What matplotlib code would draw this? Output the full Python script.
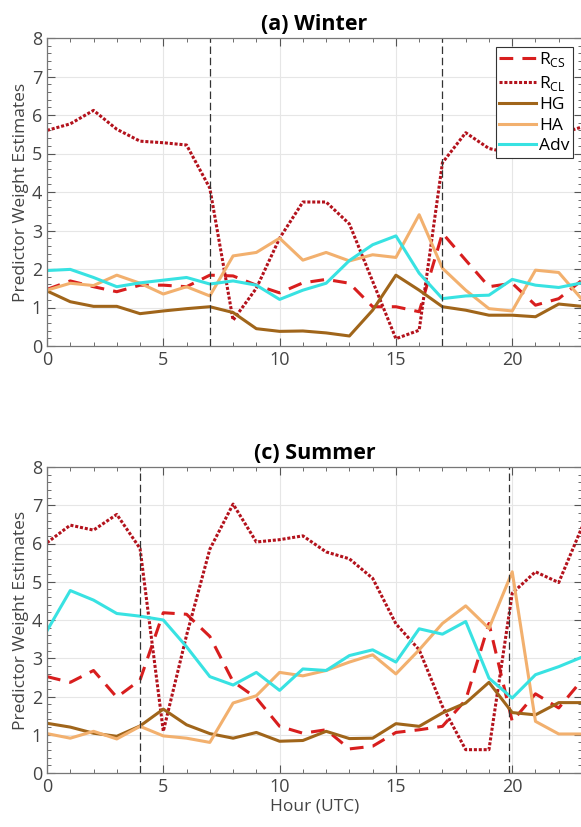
import numpy as np
import matplotlib
matplotlib.use("Agg")
import matplotlib.pyplot as plt
from matplotlib.ticker import MultipleLocator

plt.rcParams['font.family'] = ['Open Sans', 'DejaVu Sans']

hours = np.arange(24)

# winter predictor weights
w_rcs = [1.47, 1.69, 1.54, 1.41, 1.58, 1.58, 1.54, 1.84, 1.82, 1.58, 1.38, 1.64,
         1.73, 1.63, 1.02, 1.02, 0.89, 2.93, 2.23, 1.54, 1.63, 1.06, 1.23, 1.71]
w_rcl = [5.60, 5.77, 6.12, 5.63, 5.32, 5.28, 5.22, 4.10, 0.67, 1.50, 2.80, 3.74,
         3.74, 3.17, 1.68, 0.19, 0.41, 4.76, 5.54, 5.13, 5.00, 5.30, 5.50, 5.69]
w_hg = [1.43, 1.15, 1.03, 1.03, 0.84, 0.91, 0.97, 1.02, 0.87, 0.45, 0.38, 0.39,
        0.34, 0.26, 0.93, 1.84, 1.45, 1.02, 0.93, 0.80, 0.80, 0.76, 1.09, 1.03]
w_ha = [1.45, 1.63, 1.57, 1.84, 1.63, 1.35, 1.54, 1.30, 2.34, 2.43, 2.80, 2.23,
        2.43, 2.21, 2.37, 2.30, 3.41, 2.02, 1.45, 0.97, 0.91, 1.97, 1.91, 1.21]
w_adv = [1.96, 1.99, 1.78, 1.54, 1.64, 1.71, 1.78, 1.61, 1.69, 1.58, 1.21, 1.45,
         1.63, 2.22, 2.63, 2.86, 1.89, 1.23, 1.30, 1.32, 1.73, 1.58, 1.52, 1.64]

# summer predictor weights
s_rcs = [2.52, 2.37, 2.68, 1.98, 2.43, 4.19, 4.15, 3.57, 2.39, 1.96, 1.22, 1.04,
         1.13, 0.63, 0.70, 1.06, 1.13, 1.22, 1.91, 3.91, 1.35, 2.07, 1.70, 2.43]
s_rcl = [6.02, 6.48, 6.35, 6.76, 5.87, 1.09, 3.60, 5.85, 7.03, 6.04, 6.10, 6.20,
         5.78, 5.60, 5.09, 3.90, 3.22, 1.74, 0.61, 0.61, 4.70, 5.26, 4.98, 6.43]
s_hg = [1.30, 1.20, 1.04, 0.96, 1.23, 1.67, 1.26, 1.03, 0.91, 1.06, 0.83, 0.85,
        1.09, 0.90, 0.91, 1.29, 1.22, 1.57, 1.83, 2.37, 1.58, 1.52, 1.84, 1.84]
s_ha = [1.03, 0.91, 1.09, 0.89, 1.22, 0.97, 0.91, 0.80, 1.83, 2.02, 2.63, 2.54,
        2.68, 2.90, 3.09, 2.59, 3.22, 3.91, 4.37, 3.78, 5.26, 1.35, 1.02, 1.02]
s_adv = [3.72, 4.77, 4.52, 4.17, 4.10, 4.00, 3.30, 2.52, 2.30, 2.63, 2.16, 2.72,
         2.68, 3.07, 3.22, 2.90, 3.77, 3.63, 3.96, 2.48, 1.96, 2.57, 2.78, 3.03]

# sunrise / sunset markers
winter_marks = [7, 17]
summer_marks = [4, 19.85]

labels = [r'R$_\mathregular{CS}$', r'R$_\mathregular{CL}$', 'HG', 'HA', 'Adv']
colors = ['#d81e1e', '#b3121c', '#a0651a', '#f2b06e', '#38e2e2']
styles = [(0, (4.5, 3)), (0, (1, 0.6)), '-', '-', '-']

fig = plt.figure(figsize=(5.81, 8.27), dpi=100)
ax_w = fig.add_axes([47 / 581, 1 - 346 / 827, 535 / 581, 308 / 827])
ax_s = fig.add_axes([47 / 581, 1 - 773 / 827, 535 / 581, 306 / 827])

panels = [
    (ax_w, '(a) Winter', [w_rcs, w_rcl, w_hg, w_ha, w_adv], winter_marks),
    (ax_s, '(c) Summer', [s_rcs, s_rcl, s_hg, s_ha, s_adv], summer_marks),
]

for ax, title, series, marks in panels:
    for vals, lab, col, ls in zip(series, labels, colors, styles):
        ax.plot(hours, vals, color=col, linestyle=ls, lw=2.2, label=lab)
    for m in marks:
        ax.axvline(m, color='#333333', lw=0.9, linestyle=(0, (6, 3)))
    ax.set_xlim(0, 23)
    ax.set_ylim(0, 8)
    ax.xaxis.set_major_locator(MultipleLocator(5))
    ax.xaxis.set_minor_locator(MultipleLocator(1))
    ax.yaxis.set_major_locator(MultipleLocator(1))
    ax.yaxis.set_minor_locator(MultipleLocator(0.2))
    ax.grid(True, which='major', color='#e6e6e6', lw=0.8)
    ax.set_axisbelow(True)
    ax.tick_params(which='both', direction='in', top=True, right=True,
                   colors='#555555', labelsize=13, labelcolor='#444444')
    ax.tick_params(which='major', length=6)
    ax.tick_params(which='minor', length=3)
    for sp in ax.spines.values():
        sp.set_color('#777777')
        sp.set_linewidth(0.9)
    ax.set_ylabel('Predictor Weight Estimates', fontsize=12.5, color='#444444',
                  labelpad=2)
    ax.set_title(title, fontsize=15.5, fontweight='bold', pad=6)

ax_s.set_xlabel('Hour (UTC)', fontsize=12.5, color='#444444', labelpad=2)

leg = ax_w.legend(loc='upper right', bbox_to_anchor=(0.983, 0.971),
                  fontsize=12.5, handlelength=2.1, handletextpad=0.2,
                  labelspacing=0.25, borderpad=0.2, borderaxespad=0.0,
                  fancybox=False, framealpha=1)
leg.get_frame().set_edgecolor('#333333')
leg.get_frame().set_linewidth(0.8)

fig.savefig('out.png', dpi=100)
